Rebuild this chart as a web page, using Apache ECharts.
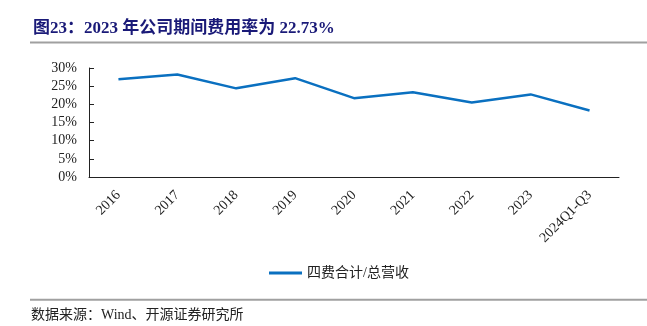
<!DOCTYPE html>
<html><head><meta charset="utf-8">
<script src="https://cdn.jsdelivr.net/npm/echarts@6/dist/echarts.min.js"></script>
<style>html,body{margin:0;padding:0;background:#fff}#c{width:647px;height:326px}</style>
</head><body><div id="c"></div>
<script>
const categories = ['2016','2017','2018','2019','2020','2021','2022','2023','2024Q1-Q3'];
const ratio = [26.9, 28.2, 24.4, 27.2, 21.7, 23.3, 20.5, 22.73, 18.3];
const seriesName = '四费合计/总营收';
const titleText = '图23：2023 年公司期间费用率为 22.73%';
const sourceText = '数据来源：Wind、开源证券研究所';
const serif = '"Liberation Serif","Times New Roman","Noto Sans CJK SC",serif';
const chart = echarts.init(document.getElementById('c'));
chart.setOption({
  animation: false,
  title: {text: titleText, left: 28, top: 15, textStyle: {color: '#1a1a78', fontSize: 17, fontWeight: 'bold', fontFamily: serif}},
  graphic: [
    {type: 'rect', shape: {x: 30, y: 41.5, width: 617, height: 2}, style: {fill: '#a0a0a0'}},
    {type: 'rect', shape: {x: 30, y: 298.7, width: 617, height: 2}, style: {fill: '#a0a0a0'}},
    {type: 'text', left: 31, top: 308, style: {text: sourceText, fontSize: 14, fontFamily: serif, fill: '#222'}}
  ],
  legend: {data: [seriesName], left: 264, top: 261, itemWidth: 33, itemHeight: 3, icon: 'rect', itemGap: 4,
    textStyle: {fontSize: 14, fontFamily: serif, color: '#222'}},
  grid: {left: 89, right: 28, top: 68, bottom: 149},
  xAxis: {type: 'category', data: categories, boundaryGap: true,
    axisLine: {lineStyle: {color: '#222', width: 1}},
    axisTick: {inside: true, length: 5, lineStyle: {color: '#222'}},
    axisLabel: {rotate: 45, fontSize: 14, fontFamily: serif, color: '#222', margin: 16}},
  yAxis: {type: 'value', min: 0, max: 30, interval: 5,
    axisLine: {show: true, lineStyle: {color: '#222', width: 1}},
    axisTick: {show: true, inside: true, length: 5, lineStyle: {color: '#222'}},
    splitLine: {show: false},
    axisLabel: {formatter: '{value}%', fontSize: 14, fontFamily: serif, color: '#222', margin: 12}},
  series: [{name: seriesName, type: 'line', data: ratio, showSymbol: false, symbol: 'none',
    lineStyle: {color: '#0a70c0', width: 2.5}, itemStyle: {color: '#0a70c0'}}]
});
</script></body></html>
